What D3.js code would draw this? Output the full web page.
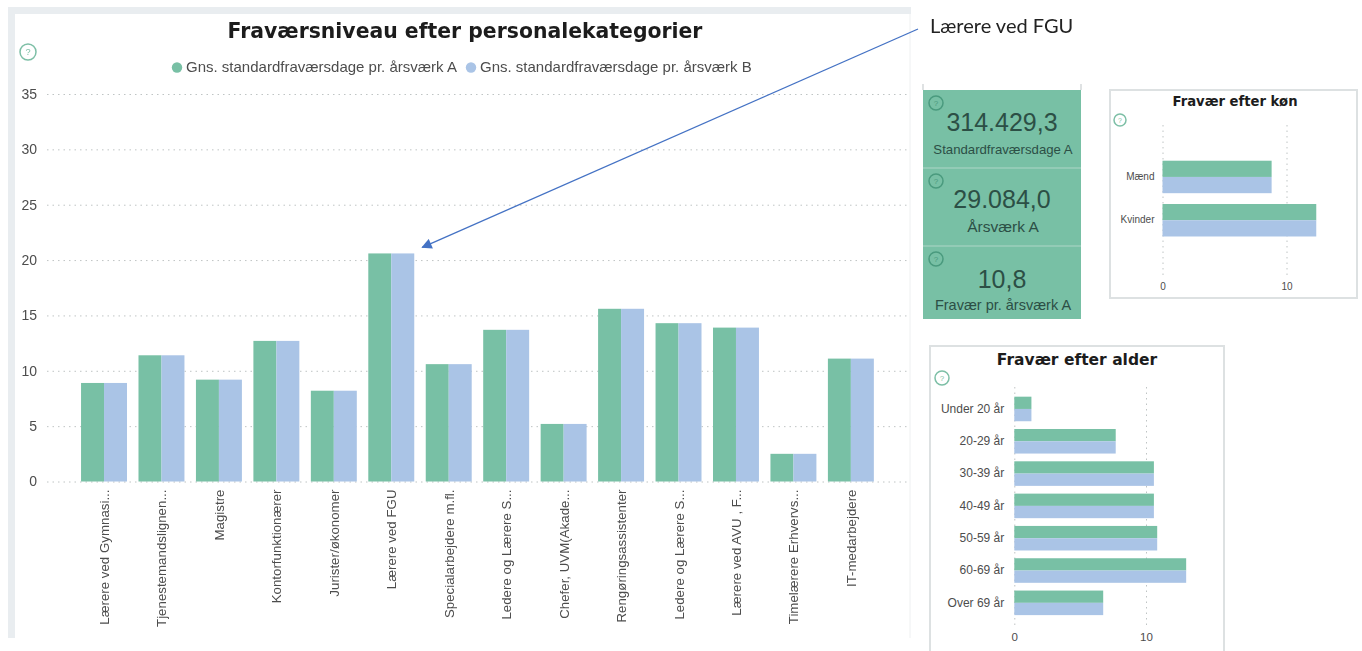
<!DOCTYPE html>
<html lang="da">
  <head>
    <meta charset="UTF-8" />
    <title>Fravaer</title>
    <style>
      html, body { margin: 0; padding: 0; background: #fff; overflow: hidden; }
      svg { display: block; font-family: "Liberation Sans", sans-serif; }
      .soft { filter: blur(0.6px); }
      .title { font-family: "DejaVu Sans", sans-serif; font-weight: bold; fill: #1c1c1c; text-anchor: middle; }
      .tick text { fill: #4d4d4d; }
      .grid line { stroke: #bfc4c4; stroke-dasharray: 1.5 4; }
      .kpi-value { fill: #2c4f45; text-anchor: middle; }
      .kpi-label { fill: #2c4f45; text-anchor: middle; }
    </style>
  </head>
  <body>
    <script src="https://d3js.org/d3.v7.min.js"></script>
    <script>
      const categories = [
        "Lærere ved Gymnasi...", "Tjenestemandslignen...", "Magistre", "Kontorfunktionærer",
        "Jurister/økonomer", "Lærere ved FGU", "Specialarbejdere m.fl.", "Ledere og Lærere S...",
        "Chefer, UVM(Akade...", "Rengøringsassistenter", "Ledere og Lærere S...", "Lærere ved AVU , F...",
        "Timelærere Erhvervs...", "IT-medarbejdere"
      ];
      const valuesA = [8.9, 11.4, 9.2, 12.7, 8.2, 20.6, 10.6, 13.7, 5.2, 15.6, 14.3, 13.9, 2.5, 11.1];
      const valuesB = [8.9, 11.4, 9.2, 12.7, 8.2, 20.6, 10.6, 13.7, 5.2, 15.6, 14.3, 13.9, 2.5, 11.1];
      const yTicks = [0, 5, 10, 15, 20, 25, 30, 35];
      const seriesNames = ["Gns. standardfraværsdage pr. årsværk A", "Gns. standardfraværsdage pr. årsværk B"];

      const genders = ["Mænd", "Kvinder"];
      const genderA = [8.8, 12.4];
      const genderB = [8.8, 12.4];

      const ages = ["Under 20 år", "20-29 år", "30-39 år", "40-49 år", "50-59 år", "60-69 år", "Over 69 år"];
      const ageA = [1.3, 7.7, 10.6, 10.6, 10.85, 13.05, 6.75];
      const ageB = [1.3, 7.7, 10.6, 10.6, 10.85, 13.05, 6.75];

      const kpiValues = ["314.429,3", "29.084,0", "10,8"];
      const kpiLabels = ["Standardfraværsdage A", "Årsværk A", "Fravær pr. årsværk A"];

      const green = "#78c0a5";
      const blue = "#aac4e6";

      const svg = d3.select("body").append("svg").attr("width", 1362).attr("height", 651);
      const root = svg.append("g").attr("class", "soft");

      function helpIcon(g, x, y, r, color) {
        g.append("circle").attr("cx", x).attr("cy", y).attr("r", r)
          .attr("fill", "none").attr("stroke", color).attr("stroke-width", 1.5);
        g.append("text").attr("x", x).attr("y", y + r * 0.42).attr("text-anchor", "middle")
          .attr("font-size", r * 1.15).attr("fill", color).text("?");
      }

      // main panel
      root.append("path")
        .attr("d", "M8 638V7H911V14H15V638Z")
        .attr("fill", "#e9edf0");
      root.append("line").attr("x1", 910).attr("x2", 910).attr("y1", 14).attr("y2", 638).attr("stroke", "#eef0f1");
      root.append("text").attr("class", "title").attr("x", 465).attr("y", 38).attr("font-size", 20.4)
        .text("Fraværsniveau efter personalekategorier");
      helpIcon(root, 28, 52, 8, "#7dbfa6");

      // legend
      const legend = root.append("g").selectAll("g").data(seriesNames).join("g")
        .attr("transform", (d, i) => `translate(${i ? 471 : 177},0)`);
      legend.append("circle").attr("cy", 67.5).attr("r", 5.2).attr("fill", (d, i) => i ? blue : green);
      legend.append("text").attr("x", 9).attr("y", 71.5).attr("font-size", 15).attr("fill", "#4d4d4d").text(d => d);

      const x = d3.scaleBand().domain(d3.range(categories.length)).range([75.3, 879.6]).paddingInner(0.2).paddingOuter(0.1);
      const x1 = d3.scaleBand().domain([0, 1]).range([0, x.bandwidth()]);
      const y = d3.scaleLinear().domain([0, 35]).range([481.5, 94]);

      const yGrid = root.append("g").attr("class", "grid").attr("transform", "translate(47,0)")
        .call(d3.axisLeft(y).tickValues(yTicks).tickSize(-861).tickPadding(10).tickFormat(d3.format("d")));
      yGrid.select(".domain").remove();
      yGrid.selectAll("text").attr("font-size", 14).attr("font-family", "Liberation Sans").attr("x", -10);

      const mainBars = root.append("g").selectAll("g").data(categories).join("g")
        .attr("transform", (d, i) => `translate(${x(i)},0)`);
      mainBars.append("rect").attr("x", x1(0)).attr("width", x1.bandwidth())
        .attr("y", (d, i) => y(valuesA[i])).attr("height", (d, i) => y(0) - y(valuesA[i])).attr("fill", green);
      mainBars.append("rect").attr("x", x1(1)).attr("width", x1.bandwidth())
        .attr("y", (d, i) => y(valuesB[i])).attr("height", (d, i) => y(0) - y(valuesB[i])).attr("fill", blue);

      const xAxis = root.append("g").attr("transform", `translate(0,${y(0)})`)
        .call(d3.axisBottom(x).tickSize(0).tickFormat(i => categories[i]));
      xAxis.select(".domain").remove();
      xAxis.selectAll("text")
        .attr("font-size", 13.3).attr("font-family", "Liberation Sans")
        .attr("text-anchor", "end").attr("dy", 0)
        .attr("transform", "translate(5,8) rotate(-90)")
        .attr("x", 0).attr("y", 0);

      // kpi panel
      const kpiTop = [90, 168, 246];
      const kpi = root.append("g");
      kpi.append("rect").attr("x", 923).attr("y", 90).attr("width", 158).attr("height", 229).attr("fill", green);
      kpi.selectAll(".stub").data([923, 1081]).join("line").attr("class", "stub")
        .attr("x1", d => d).attr("x2", d => d).attr("y1", 84).attr("y2", 90)
        .attr("stroke", "#d5d9da").attr("stroke-width", 1.5);
      kpi.selectAll(".divider").data(kpiTop.slice(1)).join("line").attr("class", "divider")
        .attr("x1", 923).attr("x2", 1081).attr("y1", d => d).attr("y2", d => d)
        .attr("stroke", "#9ccfbc").attr("stroke-width", 1.5);
      kpiTop.forEach(t => helpIcon(kpi, 936, t + 13, 7, "#4a9a7e"));
      const kpiValueY = [131, 208, 288];
      const kpiLabelY = [154, 232, 310];
      const kpiLabelSize = [13.2, 15.5, 14.5];
      kpi.selectAll(".kpi-value").data(kpiValues).join("text").attr("class", "kpi-value")
        .attr("x", 1002).attr("y", (d, i) => kpiValueY[i]).attr("font-size", 25).text(d => d);
      kpi.selectAll(".kpi-label").data(kpiLabels).join("text").attr("class", "kpi-label")
        .attr("x", 1003).attr("y", (d, i) => kpiLabelY[i]).attr("font-size", (d, i) => kpiLabelSize[i]).text(d => d);

      // horizontal bar panels
      function hbars(opt) {
        const g = root.append("g");
        g.append("rect").attr("x", opt.box[0]).attr("y", opt.box[1]).attr("width", opt.box[2]).attr("height", opt.box[3])
          .attr("fill", "#fff").attr("stroke", "#dde1e2").attr("stroke-width", 2);
        g.append("text").attr("class", "title").attr("x", opt.titleX).attr("y", opt.titleY)
          .attr("font-size", opt.titleSize).text(opt.title);
        helpIcon(g, opt.icon[0], opt.icon[1], opt.icon[2], "#7dbfa6");

        const hx = d3.scaleLinear().domain([0, 10]).range(opt.xRange);
        const hy = d3.scaleBand().domain(opt.cats).range(opt.yRange).paddingInner(opt.pad).paddingOuter(opt.pad / 2);
        const sub = d3.scaleBand().domain([0, 1]).range([0, hy.bandwidth()]);

        const grid = g.append("g").attr("class", "grid").attr("transform", `translate(0,${opt.gridBottom})`)
          .call(d3.axisBottom(hx).tickValues([0, 10]).tickSize(opt.gridTop - opt.gridBottom).tickPadding(0));
        grid.select(".domain").remove();
        grid.selectAll("text").attr("y", opt.tickDy).attr("dy", 0).attr("font-size", opt.tickSize).attr("font-family", "Liberation Sans");

        const rows = g.append("g").selectAll("g").data(opt.cats).join("g")
          .attr("transform", d => `translate(0,${hy(d)})`);
        rows.append("rect").attr("x", hx(0)).attr("y", sub(0)).attr("height", sub.bandwidth())
          .attr("width", (d, i) => hx(opt.a[i]) - hx(0)).attr("fill", green);
        rows.append("rect").attr("x", hx(0)).attr("y", sub(1)).attr("height", sub.bandwidth())
          .attr("width", (d, i) => hx(opt.b[i]) - hx(0)).attr("fill", blue);

        const labels = g.append("g").attr("transform", `translate(${hx(0)},0)`)
          .call(d3.axisLeft(hy).tickSize(0).tickPadding(opt.labelPad));
        labels.select(".domain").remove();
        labels.selectAll("text").attr("font-size", opt.labelSize).attr("font-family", "Liberation Sans");
      }

      hbars({
        box: [1110, 90, 247, 208], title: "Fravær efter køn", titleX: 1235, titleY: 106, titleSize: 13.2,
        icon: [1120, 120, 6], cats: genders, a: genderA, b: genderB,
        xRange: [1162.5, 1286.5], yRange: [155.3, 241.9], pad: 0.25,
        gridTop: 121, gridBottom: 275, tickDy: 15, tickSize: 10, labelPad: 8, labelSize: 10
      });
      hbars({
        box: [930, 346, 294, 320], title: "Fravær efter alder", titleX: 1077, titleY: 365, titleSize: 15.5,
        icon: [942, 378, 7], cats: ages, a: ageA, b: ageB,
        xRange: [1014.3, 1146], yRange: [392.8, 619], pad: 0.24,
        gridTop: 387, gridBottom: 625, tickDy: 16, tickSize: 11.5, labelPad: 10, labelSize: 12
      });

      // annotation, not blurred
      const tipX = x(5) + x.bandwidth() + 8;
      const tipY = y(valuesA[5]) - 6;
      svg.append("defs").append("marker").attr("id", "arrow").attr("viewBox", "0 0 10 10")
        .attr("refX", 9).attr("refY", 5).attr("markerWidth", 9).attr("markerHeight", 8).attr("orient", "auto")
        .append("path").attr("d", "M0 0L10 5L0 10Z").attr("fill", "#4472c4");
      svg.append("line").attr("x1", 918).attr("y1", 29).attr("x2", tipX).attr("y2", tipY)
        .attr("stroke", "#4472c4").attr("stroke-width", 1.3).attr("marker-end", "url(#arrow)");
      svg.append("text").attr("x", 930).attr("y", 33).attr("font-family", "Lato")
        .attr("font-size", 20).attr("fill", "#222").text("Lærere ved FGU");
    </script>
  </body>
</html>
